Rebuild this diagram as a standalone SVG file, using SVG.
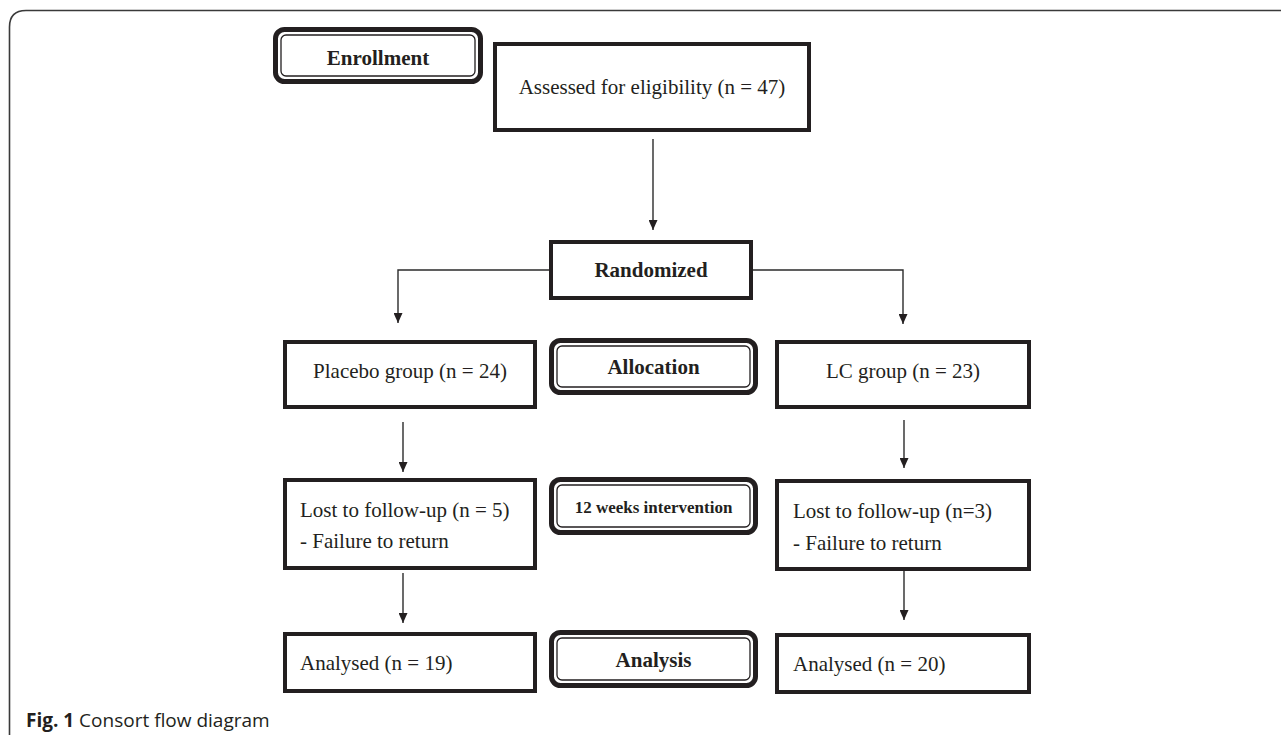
<svg xmlns="http://www.w3.org/2000/svg" width="1281" height="735" viewBox="0 0 1281 735">
<defs>
<style>
.box{fill:#fff;stroke:#231f20;stroke-width:4}
.outer{fill:#fff;stroke:#231f20;stroke-width:5}
.inner{fill:none;stroke:#231f20;stroke-width:1.3}
.t{font-family:"Liberation Serif","Times New Roman",serif;font-size:21px;fill:#231f20}
.b{font-weight:bold}
.c{text-anchor:middle}
.con{fill:none;stroke:#2b2b2b;stroke-width:1.4}
</style>
<marker id="ah" markerUnits="userSpaceOnUse" markerWidth="10" markerHeight="9" refX="10" refY="4.5" orient="auto">
<path d="M0,0 L10,4.5 L0,9 z" fill="#231f20"/>
</marker>
</defs>
<rect width="1281" height="735" fill="#fff"/>
<path d="M9.5,735 L9.5,27 Q9.5,10.5 26,10.5 L1281,10.5" fill="none" stroke="#3a3a3a" stroke-width="1.6"/>

<g id="connectors">
<line class="con" x1="653" y1="139" x2="653" y2="230" marker-end="url(#ah)"/>
<polyline class="con" points="549,270 398,270 398,323" marker-end="url(#ah)"/>
<polyline class="con" points="753,270 903,270 903,324" marker-end="url(#ah)"/>
<line class="con" x1="403" y1="422" x2="403" y2="472" marker-end="url(#ah)"/>
<line class="con" x1="403" y1="573" x2="403" y2="623" marker-end="url(#ah)"/>
<line class="con" x1="904" y1="420" x2="904" y2="468" marker-end="url(#ah)"/>
<line class="con" x1="904" y1="571" x2="904" y2="620" marker-end="url(#ah)"/>
</g>

<g id="enrollment">
<rect class="outer" x="275.5" y="29.5" width="205" height="52" rx="9"/>
<rect class="inner" x="281" y="35" width="194" height="41" rx="5"/>
<text class="t b c" x="378" y="65">Enrollment</text>
</g>
<g id="assessed">
<rect class="box" x="495" y="44" width="314" height="86"/>
<text class="t c" x="652" y="94">Assessed for eligibility (n = 47)</text>
</g>
<g id="randomized">
<rect class="box" x="551" y="242" width="200" height="56"/>
<text class="t b c" x="651" y="277">Randomized</text>
</g>
<g id="placebo">
<rect class="box" x="285" y="342" width="250" height="65"/>
<text class="t c" x="410" y="378">Placebo group (n = 24)</text>
</g>
<g id="allocation">
<rect class="outer" x="551.5" y="340.5" width="204" height="52" rx="9"/>
<rect class="inner" x="557" y="346" width="193" height="41" rx="5"/>
<text class="t b c" x="653.5" y="374">Allocation</text>
</g>
<g id="lc">
<rect class="box" x="777" y="342" width="252" height="65"/>
<text class="t c" x="903" y="378">LC group (n = 23)</text>
</g>
<g id="lost-placebo">
<rect class="box" x="285" y="480" width="250" height="88"/>
<text class="t" x="300" y="517">Lost to follow-up (n = 5)</text>
<text class="t" x="300" y="548">- Failure to return</text>
</g>
<g id="intervention">
<rect class="outer" x="551.5" y="479.5" width="204" height="53" rx="9"/>
<rect class="inner" x="557" y="485" width="193" height="42" rx="5"/>
<text class="t b c" x="653.5" y="513" style="font-size:17px">12 weeks intervention</text>
</g>
<g id="lost-lc">
<rect class="box" x="777" y="481" width="252" height="88"/>
<text class="t" x="793" y="518">Lost to follow-up (n=3)</text>
<text class="t" x="793" y="550">- Failure to return</text>
</g>
<g id="analysed-placebo">
<rect class="box" x="285" y="634" width="250" height="57"/>
<text class="t" x="300" y="670">Analysed (n = 19)</text>
</g>
<g id="analysis">
<rect class="outer" x="551.5" y="632.5" width="204" height="53" rx="9"/>
<rect class="inner" x="557" y="638" width="193" height="42" rx="5"/>
<text class="t b c" x="653.5" y="667">Analysis</text>
</g>
<g id="analysed-lc">
<rect class="box" x="777" y="635" width="252" height="57"/>
<text class="t" x="793" y="671">Analysed (n = 20)</text>
</g>
<text x="26" y="727" style="font-family:'Open Sans','Noto Sans',sans-serif;font-size:19px;fill:#231f20"><tspan font-weight="bold">Fig. 1</tspan> Consort flow diagram</text>
</svg>
